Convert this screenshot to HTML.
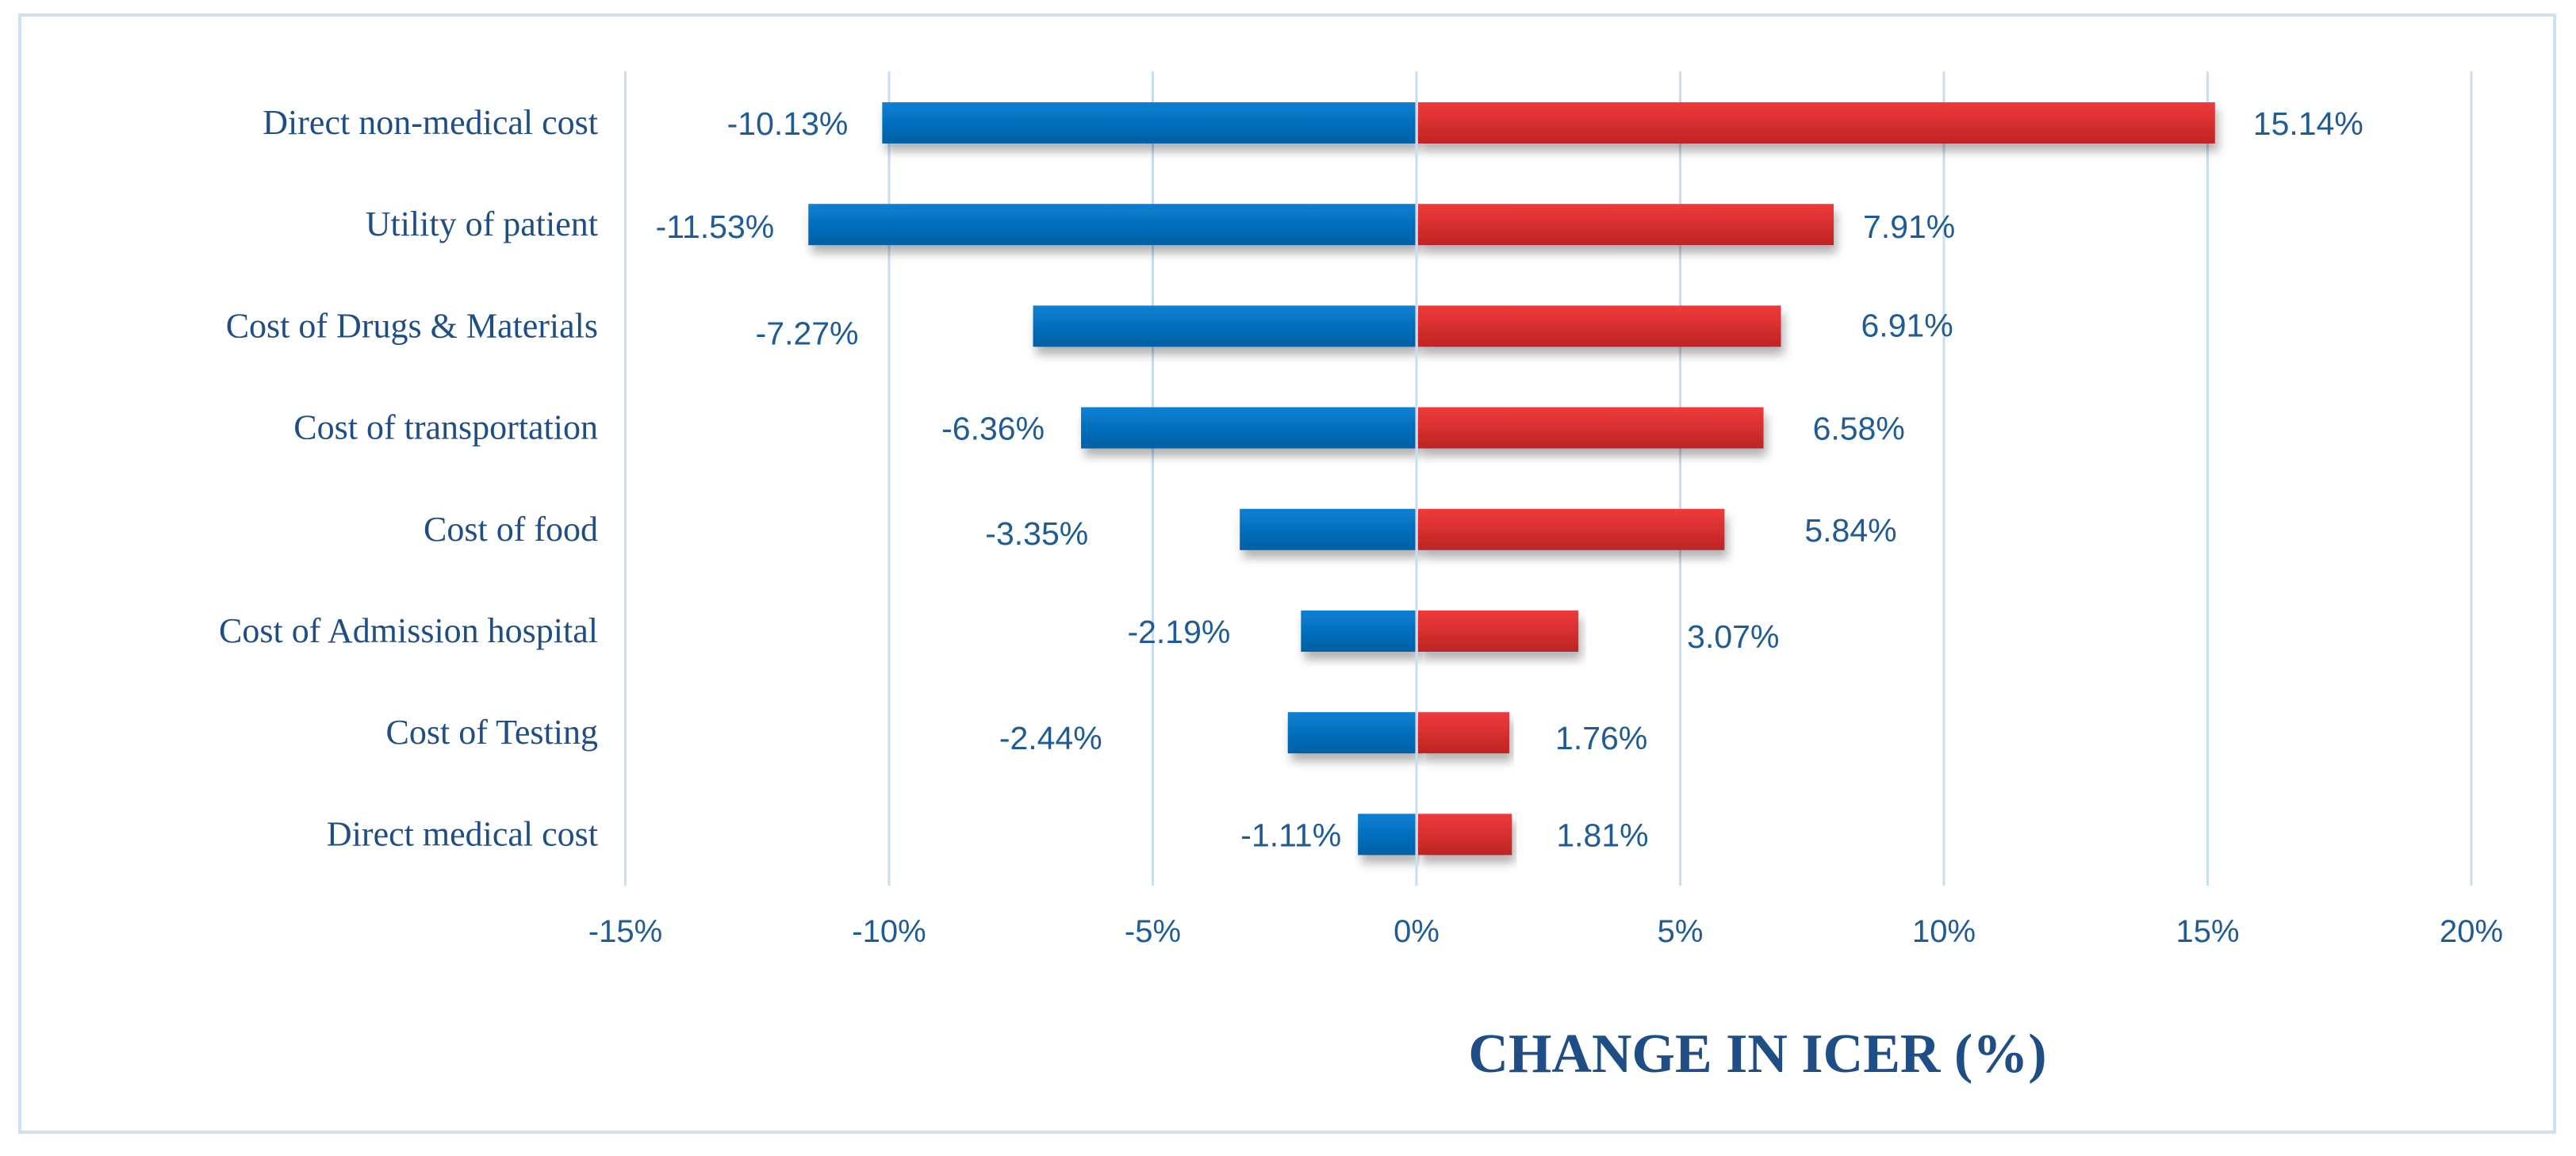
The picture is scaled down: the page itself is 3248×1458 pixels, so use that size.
<!DOCTYPE html>
<html><head><meta charset="utf-8"><style>
html,body{margin:0;padding:0;background:#fff;}
svg{display:block;}
</style></head><body>
<svg id="chart" width="3248" height="1458" viewBox="0 0 3248 1458" xmlns="http://www.w3.org/2000/svg">
<defs>
<linearGradient id="gb" x1="0" y1="0" x2="0" y2="1"><stop offset="0" stop-color="#0a7fd2"/><stop offset="1" stop-color="#0060a6"/></linearGradient>
<linearGradient id="gr" x1="0" y1="0" x2="0" y2="1"><stop offset="0" stop-color="#ee3b3b"/><stop offset="1" stop-color="#be2424"/></linearGradient>
<filter id="sh" x="-5%" y="-20%" width="110%" height="180%"><feDropShadow dx="4" dy="10" stdDeviation="6" flood-color="#000" flood-opacity="0.3"/></filter>
</defs>
<rect x="25" y="19" width="3196" height="1409" fill="#fff" stroke="#cfe0f2" stroke-width="4"/>
<g id="grid"></g><g id="bars"></g><g id="labels"></g>
<text x="2216" y="1352" text-anchor="middle" font-family="Liberation Serif, serif" font-weight="bold" font-size="70" fill="#1f4e86">CHANGE IN ICER (%)</text>
</svg>
<script>
const categories = ["Direct non-medical cost","Utility of patient","Cost of Drugs & Materials","Cost of transportation","Cost of food","Cost of Admission hospital","Cost of Testing","Direct medical cost"];
const lowValues = [-10.13,-11.53,-7.27,-6.36,-3.35,-2.19,-2.44,-1.11];
const highValues = [15.14,7.91,6.91,6.58,5.84,3.07,1.76,1.81];
const ticks = [-15,-10,-5,0,5,10,15,20];
const tickLabels = ["-15%","-10%","-5%","0%","5%","10%","15%","20%"];

// label layout gaps (pixels, styling only)
const lowGap = [43,43,220,46,191,89,234,21];
const highGap = [48,37,101,62,101,137,58,56];
const lowDy = [0,2,8,0,4,0,6,0];
const highDy = [0,2,-2,0,0,6,6,0];

const NS="http://www.w3.org/2000/svg";
const x = v => 1786 + v*66.5;
const yc = i => 155 + i*128.2;
const BH = 52;
function mk(tag, attrs, parent, txt){const e=document.createElementNS(NS,tag);for(const k in attrs)e.setAttribute(k,attrs[k]);if(txt!==undefined)e.textContent=txt;parent.appendChild(e);return e;}
const grid=document.getElementById('grid'), bars=document.getElementById('bars'), labels=document.getElementById('labels');
ticks.forEach((t,i)=>{
  const l=mk('line',{x1:x(t),x2:x(t),y1:90,y2:1117,stroke:'#c9ddf1','stroke-width':3},grid);
  
  
  const tx=mk('text',{x:x(t),y:1188,'text-anchor':'middle','font-family':'Liberation Sans, sans-serif','font-size':40,fill:'#1f5b94'},grid,tickLabels[i]);
  
  
});
categories.forEach((c,i)=>{
  const y=yc(i);
  const cl=mk('text',{x:754,y:y+14,'text-anchor':'end','font-family':'Liberation Serif, serif','font-size':44,fill:'#1f4e86'},labels,c);
  
  
  const lo=lowValues[i], hi=highValues[i];
  const b1=mk('rect',{x:x(lo),y:y-BH/2,width:x(0)-x(lo),height:BH,fill:'url(#gb)',filter:'url(#sh)'},bars);
  
  
  const b2=mk('rect',{x:x(0)+2,y:y-BH/2,width:x(hi)-x(0)-2,height:BH,fill:'url(#gr)',filter:'url(#sh)'},bars);
  
  
  const v1=mk('text',{x:x(lo)-lowGap[i],y:y+15+lowDy[i],'text-anchor':'end','font-family':'Liberation Sans, sans-serif','font-size':41,fill:'#1f5b94'},labels,lo.toFixed(2)+'%');
  
  
  const v2=mk('text',{x:x(hi)+highGap[i],y:y+15+highDy[i],'text-anchor':'start','font-family':'Liberation Sans, sans-serif','font-size':41,fill:'#1f5b94'},labels,hi.toFixed(2)+'%');
  
  
});
const z=mk('line',{x1:x(0),x2:x(0),y1:90,y2:1117,stroke:'#c9ddf1','stroke-width':3},bars);


</script>
</body></html>
